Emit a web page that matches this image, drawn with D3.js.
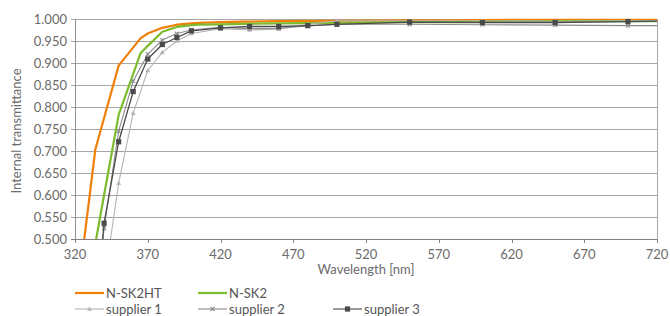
<!DOCTYPE html>
<html>
<head>
<meta charset="utf-8">
<script src="https://cdn.jsdelivr.net/npm/d3@7"></script>
<style>
  body { margin: 0; background: #fff; }
  text { font-family: Lato, "Open Sans", sans-serif; }
</style>
</head>
<body>
<svg width="670" height="316"></svg>
<script>
// schott-style wavelengths for the two glasses
const glassWl = [320, 334, 340, 350, 365, 370, 380, 390, 400, 405, 420, 436, 460, 500, 546, 580, 620, 660, 700, 720];
const nsk2ht = [0.33, 0.704, 0.775, 0.894, 0.956, 0.967, 0.980, 0.987, 0.990, 0.991, 0.993, 0.994, 0.995, 0.996, 0.997, 0.997, 0.998, 0.998, 0.998, 0.998];
const nsk2 = [0.20, 0.49, 0.60, 0.782, 0.922, 0.939, 0.971, 0.982, 0.986, 0.987, 0.988, 0.989, 0.990, 0.991, 0.993, 0.993, 0.994, 0.995, 0.995, 0.995];

// supplier measurements
const supWl = [330, 340, 350, 360, 370, 380, 390, 400, 420, 440, 460, 480, 500, 550, 600, 650, 700, 720];
const supplier1 = [0.10, 0.40, 0.627, 0.786, 0.883, 0.924, 0.950, 0.967, 0.978, 0.975, 0.977, 0.988, 0.996, 0.996, 0.996, 0.995, 0.996, 0.996];
const supplier2 = [0.20, 0.525, 0.745, 0.859, 0.920, 0.952, 0.967, 0.975, 0.981, 0.978, 0.979, 0.984, 0.988, 0.988, 0.987, 0.986, 0.985, 0.985];
const supplier3 = [0.17, 0.536, 0.721, 0.835, 0.909, 0.942, 0.958, 0.973, 0.980, 0.983, 0.983, 0.985, 0.988, 0.993, 0.992, 0.992, 0.994, 0.995];

const xTicks = [320, 370, 420, 470, 520, 570, 620, 670, 720];
const yTicks = d3.range(0.5, 1.0001, 0.05);

const series = [
    { name: 'N-SK2HT', wl: glassWl, vals: nsk2ht, color: '#f07f0a', width: 2.2, marker: null },
    { name: 'N-SK2', wl: glassWl, vals: nsk2, color: '#7bbb2c', width: 2.2, marker: null },
    { name: 'supplier 1', wl: supWl, vals: supplier1, color: '#b4b4b4', width: 1.1, marker: 'tri' },
    { name: 'supplier 2', wl: supWl, vals: supplier2, color: '#8a8a8a', width: 1.1, marker: 'x' },
    { name: 'supplier 3', wl: supWl, vals: supplier3, color: '#4a4a4a', width: 1.3, marker: 'sq' }
];

const svg = d3.select('svg');
const x = d3.scaleLinear().domain([320, 720]).range([75, 657]);
const y = d3.scaleLinear().domain([0.5, 1.0]).range([239, 19]);

// grid
svg.append('g').selectAll('line').data(yTicks).join('line')
    .attr('x1', x(320) - 4).attr('x2', x(720))
    .attr('y1', d => Math.round(y(d)) + 0.5).attr('y2', d => Math.round(y(d)) + 0.5)
    .attr('stroke', d => d < 0.501 ? '#808080' : '#a6a6a6').attr('stroke-width', 1);

svg.append('line')
    .attr('x1', x(320) + 0.5).attr('x2', x(320) + 0.5)
    .attr('y1', y(1)).attr('y2', y(0.5))
    .attr('stroke', '#909090');
svg.append('line')
    .attr('x1', x(720) + 0.5).attr('x2', x(720) + 0.5)
    .attr('y1', y(1)).attr('y2', y(0.5))
    .attr('stroke', '#a6a6a6');

// axes labels
svg.append('g').selectAll('text').data(yTicks).join('text')
    .attr('x', 67).attr('y', d => y(d) + 4.5)
    .attr('text-anchor', 'end').attr('font-size', 13).attr('fill', '#6b6b6b')
    .text(d => d3.format('.3f')(d));

svg.append('g').selectAll('line').data(xTicks).join('line')
    .attr('x1', d => Math.round(x(d)) + 0.5).attr('x2', d => Math.round(x(d)) + 0.5)
    .attr('y1', y(0.5)).attr('y2', y(0.5) + 4)
    .attr('stroke', '#808080');

svg.append('g').selectAll('text').data(xTicks).join('text')
    .attr('x', d => x(d)).attr('y', 259)
    .attr('text-anchor', 'middle').attr('font-size', 13).attr('fill', '#6b6b6b')
    .text(d => d);

svg.append('text')
    .attr('x', x(520)).attr('y', 274)
    .attr('text-anchor', 'middle').attr('font-size', 13).attr('fill', '#6b6b6b')
    .text('Wavelength [nm]');

svg.append('text')
    .attr('transform', 'translate(21,131) rotate(-90)')
    .attr('text-anchor', 'middle').attr('font-size', 13).attr('fill', '#6b6b6b')
    .text('Internal transmittance');

// clip
svg.append('clipPath').attr('id', 'plot')
    .append('rect').attr('x', x(320)).attr('y', y(1) - 3)
    .attr('width', x(720) - x(320)).attr('height', y(0.5) - y(1) + 3);

const line = d3.line().x(d => x(d[0])).y(d => y(d[1]));
const plot = svg.append('g').attr('clip-path', 'url(#plot)');

function drawMarker(g, kind, cx, cy, color) {
    if (kind === 'tri') {
        g.append('path').attr('d', `M${cx},${cy - 2.6}L${cx + 2.4},${cy + 1.8}L${cx - 2.4},${cy + 1.8}Z`).attr('fill', color);
    } else if (kind === 'x') {
        g.append('path').attr('d', `M${cx - 2},${cy - 2}L${cx + 2},${cy + 2}M${cx + 2},${cy - 2}L${cx - 2},${cy + 2}`)
            .attr('stroke', color).attr('stroke-width', 1.1);
    } else if (kind === 'sq') {
        g.append('rect').attr('x', cx - 2.6).attr('y', cy - 2.6).attr('width', 5.2).attr('height', 5.2).attr('fill', color);
    }
}

series.forEach(s => {
    const pts = s.wl.map((w, i) => [w, s.vals[i]]);
    plot.append('path').datum(pts)
        .attr('d', line).attr('fill', 'none')
        .attr('stroke', s.color).attr('stroke-width', s.width)
        .attr('stroke-linejoin', 'round');
    if (s.marker) {
        pts.filter(p => p[1] >= 0.5 && p[0] < 720)
            .forEach(p => drawMarker(plot, s.marker, x(p[0]), y(p[1]), s.color));
    }
});

// legend
const legendPos = [[75, 293], [198, 293], [75, 309], [198, 309], [333, 309]];
series.forEach((s, i) => {
    const [lx, ly] = legendPos[i];
    const g = svg.append('g');
    g.append('line').attr('x1', lx).attr('x2', lx + 29).attr('y1', ly).attr('y2', ly)
        .attr('stroke', s.color).attr('stroke-width', s.marker ? 1.1 : 2.2);
    if (s.marker) drawMarker(g, s.marker, lx + 14.5, ly, s.color);
    g.append('text').attr('x', lx + 31).attr('y', ly + 4.5)
        .attr('font-size', 13).attr('fill', '#555')
        .text(s.name);
});
</script>
</body>
</html>
